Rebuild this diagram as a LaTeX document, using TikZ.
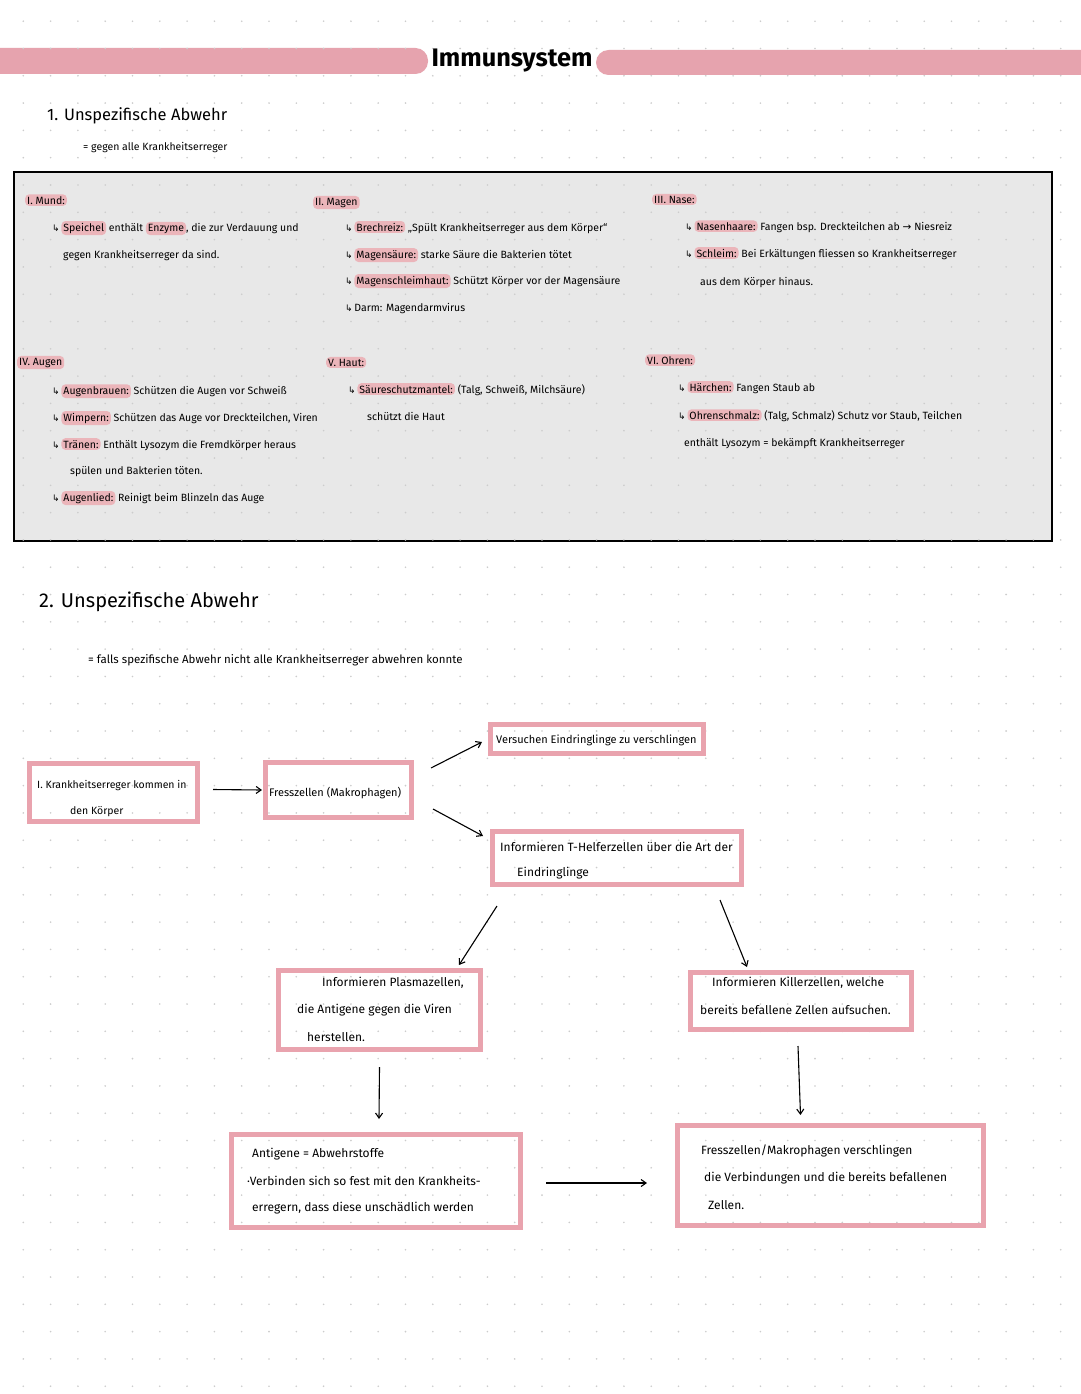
\documentclass[tikz,border=0pt]{standalone}
\usepackage{fontspec}
\usepackage{graphicx}
\setmainfont{Fira Sans}
\newfontfamily\symf{DejaVu Sans}
\usetikzlibrary{calc,arrows.meta}
\definecolor{banner}{HTML}{E6A3AE}
\definecolor{hlpink}{HTML}{EBB5BA}
\definecolor{boxpink}{HTML}{E9A3AE}
\definecolor{panel}{HTML}{E8E8E8}
\definecolor{dotc}{HTML}{CCCCCC}
\newcommand{\hl}[1]{\tikz[baseline=(h.base)]\node[fill=hlpink,draw=none,rounded corners=4pt,inner xsep=2pt,inner ysep=1.8pt,outer sep=0pt,anchor=base](h){#1};}
\newcommand{\ra}{{\symf\fontsize{9}{9}\selectfont ↳}\,}
\tikzset{
  itm/.style={anchor=base west,inner sep=0pt,font=\fontsize{10.5}{12}\selectfont},
  ftx/.style={anchor=west,inner sep=0pt,font=\fontsize{12}{14}\selectfont},
  fbox/.style={draw=boxpink,line width=5pt,inner sep=0pt},
  arr/.style={-{Straight Barb[length=5pt,width=7pt]},line width=1.1pt,black},
}
\begin{document}
\begin{tikzpicture}[x=1pt,y=-1pt]
\useasboundingbox (0,0) rectangle (1080,1394);
\fill[white] (0,0) rectangle (1080,1394);
% banner
\fill[banner,rounded corners=12.5pt] (-30,48) rectangle (428,74);
\fill[banner,rounded corners=12.5pt] (596,50) rectangle (1110,75);
% panel
\node[draw=black,line width=1.8pt,fill=panel,minimum width=1038pt,minimum height=369pt,inner sep=0pt] (panelbox) at (533,356.5) {};
% dot grid
\foreach \i in {0,...,39} {\foreach \j in {0,...,50} {\fill[dotc] (23.3+\i*27.3,21.2+\j*27.3) circle (0.9);}}
% titles
\node (title) at (512,61) {\resizebox{161pt}{!}{\fontsize{30}{30}\selectfont\bfseries Immunsystem}};
\node[anchor=west,inner sep=0pt] (h1) at (47,116) {\fontsize{16.5}{16.5}\selectfont 1. Unspezifische Abwehr};
\node[anchor=west,inner sep=0pt] (h1sub) at (83,148) {\fontsize{10.5}{10.5}\selectfont = gegen alle Krankheitserreger};
% Mund
\node[itm] (m0) at (25,204) {\hl{I. Mund:}};
\node[itm] (m1) at (52,231) {\ra\hl{Speichel} enthält \hl{Enzyme}, die zur Verdauung und};
\node[itm] (m2) at (63,258) {gegen Krankheitserreger da sind.};
% Magen
\node[itm] (g0) at (313,205) {\hl{II. Magen}};
\node[itm] (g1) at (345,231) {\ra\hl{Brechreiz:} „Spült Krankheitserreger aus dem Körper“};
\node[itm] (g2) at (345,258) {\ra\hl{Magensäure:} starke Säure die Bakterien tötet};
\node[itm] (g3) at (345,284) {\ra\hl{Magenschleimhaut:} Schützt Körper vor der Magensäure};
\node[itm] (g4) at (345,311) {\ra Darm: Magendarmvirus};
% Nase
\node[itm] (n0) at (652,203) {\hl{III. Nase:}};
\node[itm] (n1) at (685,230) {\ra\hl{Nasenhaare:} Fangen bsp. Dreckteilchen ab {\symf →} Niesreiz};
\node[itm] (n2) at (685,257) {\ra\hl{Schleim:} Bei Erkältungen fliessen so Krankheitserreger};
\node[itm] (n3) at (700,285) {aus dem Körper hinaus.};
% Augen
\node[itm] (a0) at (17,365) {\hl{IV. Augen}};
\node[itm] (a1) at (52,394) {\ra\hl{Augenbrauen:} Schützen die Augen vor Schweiß};
\node[itm] (a2) at (52,421) {\ra\hl{Wimpern:} Schützen das Auge vor Dreckteilchen, Viren};
\node[itm] (a3) at (52,448) {\ra\hl{Tränen:} Enthält Lysozym die Fremdkörper heraus};
\node[itm] (a4) at (70,474) {spülen und Bakterien töten.};
\node[itm] (a5) at (52,501) {\ra\hl{Augenlied:} Reinigt beim Blinzeln das Auge};
% Haut
\node[itm] (u0) at (326,366) {\hl{V. Haut:}};
\node[itm] (u1) at (348,393) {\ra\hl{Säureschutzmantel:} (Talg, Schweiß, Milchsäure)};
\node[itm] (u2) at (367,420) {schützt die Haut};
% Ohren
\node[itm] (o0) at (645,364) {\hl{VI. Ohren:}};
\node[itm] (o1) at (678,391) {\ra\hl{Härchen:} Fangen Staub ab};
\node[itm] (o2) at (678,419) {\ra\hl{Ohrenschmalz:} (Talg, Schmalz) Schutz vor Staub, Teilchen};
\node[itm] (o3) at (684,446) {enthält Lysozym = bekämpft Krankheitserreger};
% Section 2
\node[anchor=west,inner sep=0pt] (h2) at (39,602) {\fontsize{20}{20}\selectfont 2. Unspezifische Abwehr};
\node[anchor=west,inner sep=0pt] (h2sub) at (88,660) {\fontsize{11.5}{11.5}\selectfont = falls spezifische Abwehr nicht alle Krankheitserreger abwehren konnte};
% flow boxes
\node[fbox,minimum width=168pt,minimum height=58pt] (A) at (113.5,792.5) {};
\node[fbox,minimum width=146pt,minimum height=55pt] (B) at (338.5,790) {};
\node[fbox,minimum width=213pt,minimum height=29pt] (C) at (597,739) {};
\node[fbox,minimum width=249pt,minimum height=53pt] (D) at (617,858) {};
\node[fbox,minimum width=202pt,minimum height=79pt] (E) at (379.5,1010) {};
\node[fbox,minimum width=221pt,minimum height=57pt] (F) at (801,1001) {};
\node[fbox,minimum width=289pt,minimum height=93pt] (G) at (376,1181) {};
\node[fbox,minimum width=306pt,minimum height=100pt] (H) at (830.5,1175.5) {};
% flow texts
\node[ftx,font=\fontsize{10.5}{13}\selectfont] (A1) at (37,786) {I. Krankheitserreger kommen in};
\node[ftx,font=\fontsize{10.5}{13}\selectfont] (A2) at (70,812) {den Körper};
\node[ftx,font=\fontsize{11}{13}\selectfont] (B1) at (269,793) {Fresszellen (Makrophagen)};
\node[ftx,font=\fontsize{11}{13}\selectfont] (C1) at (496,740) {Versuchen Eindringlinge zu verschlingen};
\node[ftx] (D1) at (500,847) {Informieren T-Helferzellen über die Art der};
\node[ftx] (D2) at (517,873) {Eindringlinge};
\node[ftx] (E1) at (322,983) {Informieren Plasmazellen,};
\node[ftx] (E2) at (297,1010) {die Antigene gegen die Viren};
\node[ftx] (E3) at (307,1037) {herstellen.};
\node[ftx] (F1) at (712,983) {Informieren Killerzellen, welche};
\node[ftx] (F2) at (700,1010) {bereits befallene Zellen aufsuchen.};
\node[ftx] (G1) at (252,1154) {Antigene = Abwehrstoffe};
\node[ftx] (G2) at (247,1181) {·Verbinden sich so fest mit den Krankheits-};
\node[ftx] (G3) at (252,1208) {erregern, dass diese unschädlich werden};
\node[ftx] (H1) at (701,1151) {Fresszellen/Makrophagen verschlingen};
\node[ftx] (H2) at (704,1178) {die Verbindungen und die bereits befallenen};
\node[ftx] (H3) at (708,1205) {Zellen.};
% arrows
\draw[arr] ($(A.east)+(13,-3)$) -- ($(B.west)+(-1,0)$);
\draw[arr] ($(B.north east)+(17,8)$) -- ($(C.west)+(-6,3)$);
\draw[arr] ($(B.east)+(19,19)$) -- ($(D.west)+(-7,-22)$);
\draw[arr] ($(D.south west)+(7,19)$) -- ($(E.north east)+(-24,-3)$);
\draw[arr] ($(D.south east)+(-24,13)$) -- ($(F.north)+(-54,-3)$);
\draw[arr] ($(E.south)+(0,15)$) -- ($(G.north)+(3,-13)$);
\draw[arr] ($(F.south)+(-3,14)$) -- ($(H.north)+(-30,-8)$);
\draw[arr] ($(G.east)+(23,2)$) -- ($(H.west)+(-28,7.5)$);
\end{tikzpicture}
\end{document}
